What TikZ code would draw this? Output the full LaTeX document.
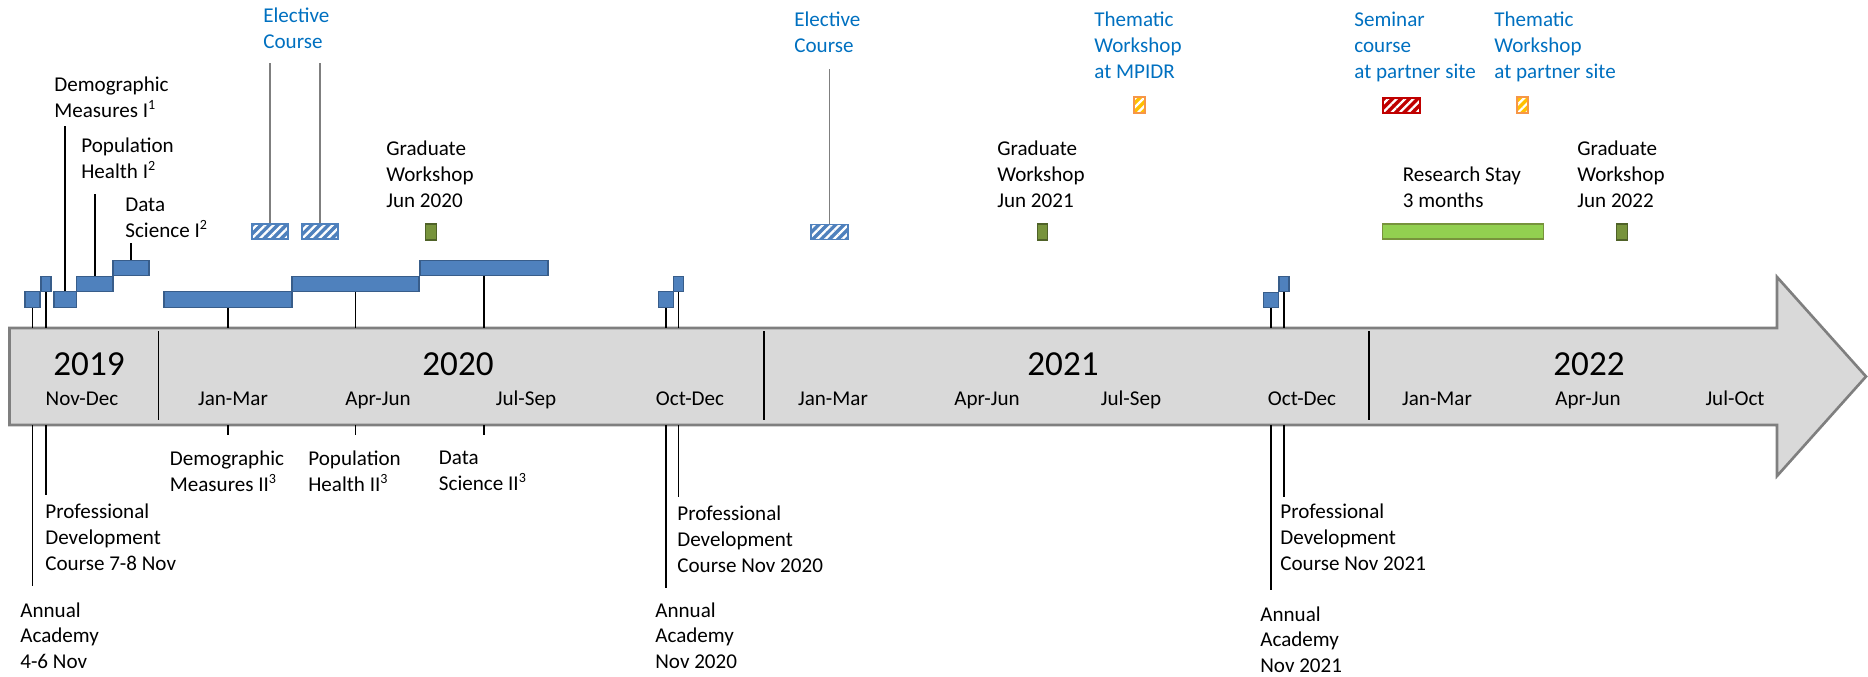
\documentclass[tikz,border=0pt]{standalone}
\usepackage{fontspec}
\setmainfont{Carlito}
\usepackage{xcolor}
\definecolor{tlblue}{RGB}{79,129,189}
\definecolor{tlblueline}{RGB}{56,93,138}
\definecolor{tltext}{RGB}{0,112,192}
\definecolor{tlgray}{RGB}{217,217,217}
\definecolor{tlgrayline}{RGB}{127,127,127}
\definecolor{tlolive}{RGB}{119,147,60}
\definecolor{tloliveline}{RGB}{79,98,40}
\definecolor{tllime}{RGB}{146,208,80}
\definecolor{tlred}{RGB}{192,0,0}
\definecolor{tlgold}{RGB}{255,192,0}
\definecolor{tlorange}{RGB}{247,150,70}
\usetikzlibrary{patterns.meta}

\tikzset{
  lbl/.style={font=\fontsize{12}{14.6}\selectfont, align=left, anchor=north west, inner sep=0pt},
  elbl/.style={lbl, text=tltext},
  year/.style={font=\fontsize{20}{24}\selectfont, anchor=base, inner sep=0pt},
  qtr/.style={font=\fontsize{12}{14.6}\selectfont, anchor=base, inner sep=0pt},
  blk/.style={draw=tlblueline, fill=tlblue, line width=0.6pt, inner sep=0pt, minimum height=0.31cm},
  hatch/.style={inner sep=0pt, line width=0.6pt, minimum height=0.3cm,
    pattern={Lines[angle=45,distance=3.4pt,line width=1.3pt]}, pattern color=white},
  elect/.style={hatch, draw=tlblue, preaction={fill=tlblue}, minimum width=0.72cm},
  them/.style={hatch, draw=tlorange, preaction={fill=tlgold}, minimum width=0.22cm, minimum height=0.32cm},
  semin/.style={hatch, draw=tlred, preaction={fill=tlred}, minimum width=0.74cm},
  grad/.style={draw=tloliveline, fill=tlolive, line width=0.6pt, inner sep=0pt, minimum width=0.21cm, minimum height=0.32cm},
  stem/.style={black, line width=0.9pt},
  gstem/.style={tlgrayline, line width=0.9pt},
  divider/.style={black, line width=1.1pt}
}

\begin{document}
\begin{tikzpicture}[x=0.02cm, y=-0.02cm]
  \useasboundingbox (0,0) rectangle (1868,676);

  % Time axis arrow
  \draw[tlgrayline, fill=tlgray, line width=1.5pt, line join=miter]
    (9.5,328) -- (1777,328) -- (1777,277) -- (1866,376.5) -- (1777,476) -- (1777,425) -- (9.5,425) -- cycle;
  \coordinate (axtop) at (0,328);
  \coordinate (axbot) at (0,425);

  % Year dividers
  \draw[divider] (158.5,331) -- (158.5,420);
  \draw[divider] (764,331) -- (764,420);
  \draw[divider] (1369,331) -- (1369,420);

  % Years
  \node[year] (y19) at (89,375) {2019};
  \node[year] (y20) at (458,375) {2020};
  \node[year] (y21) at (1063,375) {2021};
  \node[year] (y22) at (1589,375) {2022};

  % Quarters
  \node[qtr] (q1) at (82,405) {Nov-Dec};
  \node[qtr] (q2) at (233,405) {Jan-Mar};
  \node[qtr] (q3) at (378,405) {Apr-Jun};
  \node[qtr] (q4) at (526,405) {Jul-Sep};
  \node[qtr] (q5) at (690,405) {Oct-Dec};
  \node[qtr] (q6) at (833,405) {Jan-Mar};
  \node[qtr] (q7) at (987,405) {Apr-Jun};
  \node[qtr] (q8) at (1131,405) {Jul-Sep};
  \node[qtr] (q9) at (1302,405) {Oct-Dec};
  \node[qtr] (q10) at (1437,405) {Jan-Mar};
  \node[qtr] (q11) at (1588,405) {Apr-Jun};
  \node[qtr] (q12) at (1735,405) {Jul-Oct};

  % --- Core courses I (2019) ---
  \node[blk, minimum width=0.30cm] (aa19) at (32.5,299.5) {};
  \node[blk, minimum width=0.20cm] (pd19) at (46,284) {};
  \node[blk, minimum width=0.45cm] (dm1) at (65.25,299.5) {};
  \node[blk, minimum width=0.73cm] (ph1) at (94.75,284) {};
  \node[blk, minimum width=0.72cm] (ds1) at (131,268) {};
  \node[lbl] (dm1lbl) at (54,77) {Demographic\\Measures I\textsuperscript{1}};
  \node[lbl] (ph1lbl) at (81,138) {Population\\Health I\textsuperscript{2}};
  \node[lbl] (ds1lbl) at (125,198) {Data\\Science I\textsuperscript{2}};
  \draw[stem, shorten >=0.16cm] (dm1.north) -- (dm1.north |- dm1lbl.south);
  \draw[stem, shorten >=0.3cm] (ph1.north) -- (ph1.north |- ph1lbl.south);
  \draw[stem, shorten >=0.1cm] (ds1.north) -- (ds1.north |- ds1lbl.south);

  % Academy and professional development 2019
  \node[lbl] (pd19lbl) at (45,504) {Professional\\Development\\Course 7-8 Nov};
  \node[lbl] (aa19lbl) at (20,602) {Annual\\Academy\\4-6 Nov};
  \draw[stem] (aa19.south) -- (aa19.south |- axtop);
  \draw[stem] (pd19.south) -- (pd19.south |- axtop);
  \draw[stem, shorten >=0.32cm] (aa19.south |- axbot) -- (aa19.south |- aa19lbl.north);
  \draw[stem, shorten >=0.18cm] (pd19.south |- axbot) -- (pd19.south |- pd19lbl.north);

  % --- Core courses II (2020) ---
  \node[blk, minimum width=2.56cm] (dm2) at (228,299.5) {};
  \node[blk, minimum width=2.54cm] (ph2) at (355.5,284) {};
  \node[blk, minimum width=2.56cm] (ds2) at (484,268) {};
  \node[lbl] (dm2lbl) at (169.5,451) {Demographic\\Measures II\textsuperscript{3}};
  \node[lbl] (ph2lbl) at (308,451) {Population\\Health II\textsuperscript{3}};
  \node[lbl] (ds2lbl) at (438.6,451) {Data\\Science II\textsuperscript{3}};
  \foreach \c in {dm2, ph2, ds2} {
    \draw[stem] (\c.south) -- (\c.south |- axtop);
    \draw[stem, shorten >=0.32cm] (\c.south |- axbot) -- (\c.south |- \c lbl.north);
  }

  % Elective courses
  \node[elect] (el1) at (270,231.5) {};
  \node[elect] (el2) at (320,231.5) {};
  \node[elect, minimum width=0.74cm] (el3) at (829.5,232) {};
  \node[elbl] (el1lbl) at (263,8) {Elective\\Course};
  \node[elbl] (el3lbl) at (794,12) {Elective\\Course};
  \draw[gstem, shorten >=0.27cm] (el1.north) -- (el1.north |- el1lbl.south);
  \draw[gstem, shorten >=0.27cm] (el2.north) -- (el2.north |- el1lbl.south);
  \draw[gstem, shorten >=0.32cm] (el3.north) -- (el3.north |- el3lbl.south);

  % Graduate workshops
  \node[grad] (gw20) at (431,232) {};
  \node[grad] (gw21) at (1042.5,232) {};
  \node[grad] (gw22) at (1622,232) {};
  \node[lbl] (gw20lbl) at (386,141) {Graduate\\Workshop\\Jun 2020};
  \node[lbl] (gw21lbl) at (997,141) {Graduate\\Workshop\\Jun 2021};
  \node[lbl] (gw22lbl) at (1577,141) {Graduate\\Workshop\\Jun 2022};

  % Academy and professional development 2020 / 2021
  \node[blk, minimum width=0.30cm] (aa20) at (666,299.5) {};
  \node[blk, minimum width=0.20cm] (pd20) at (678.6,284) {};
  \node[blk, minimum width=0.30cm] (aa21) at (1271,300) {};
  \node[blk, minimum width=0.20cm] (pd21) at (1284,284) {};
  \node[lbl] (pd20lbl) at (677,506) {Professional\\Development\\Course Nov 2020};
  \node[lbl] (aa20lbl) at (655,602) {Annual\\Academy\\Nov 2020};
  \node[lbl] (pd21lbl) at (1280,504) {Professional\\Development\\Course Nov 2021};
  \node[lbl] (aa21lbl) at (1260,606) {Annual\\Academy\\Nov 2021};
  \foreach \c in {aa20, pd20, aa21, pd21}
    \draw[stem] (\c.south) -- (\c.south |- axtop);
  \draw[stem, shorten >=0.28cm] (aa20.south |- axbot) -- (aa20.south |- aa20lbl.north);
  \draw[stem, shorten >=0.18cm] (pd20.south |- axbot) -- (pd20.south |- pd20lbl.north);
  \draw[stem, shorten >=0.32cm] (aa21.south |- axbot) -- (aa21.south |- aa21lbl.north);
  \draw[stem, shorten >=0.14cm] (pd21.south |- axbot) -- (pd21.south |- pd21lbl.north);

  % Thematic workshops and seminar
  \node[them] (tw1) at (1139.5,105) {};
  \node[them] (tw2) at (1522.5,105) {};
  \node[semin] (sem) at (1401.5,105.5) {};
  \node[elbl] (tw1lbl) at (1094,12) {Thematic\\Workshop\\at MPIDR};
  \node[elbl] (semlbl) at (1354,12) {Seminar\\course\\at partner site};
  \node[elbl] (tw2lbl) at (1494,12) {Thematic\\Workshop\\at partner site};

  % Research stay
  \node[draw=tlolive, fill=tllime, line width=0.6pt, inner sep=0pt, minimum width=3.23cm, minimum height=0.3cm] (rs) at (1462.75,231.5) {};
  \node[lbl] (rslbl) at (1402.5,167) {Research Stay\\3 months};
\end{tikzpicture}
\end{document}
